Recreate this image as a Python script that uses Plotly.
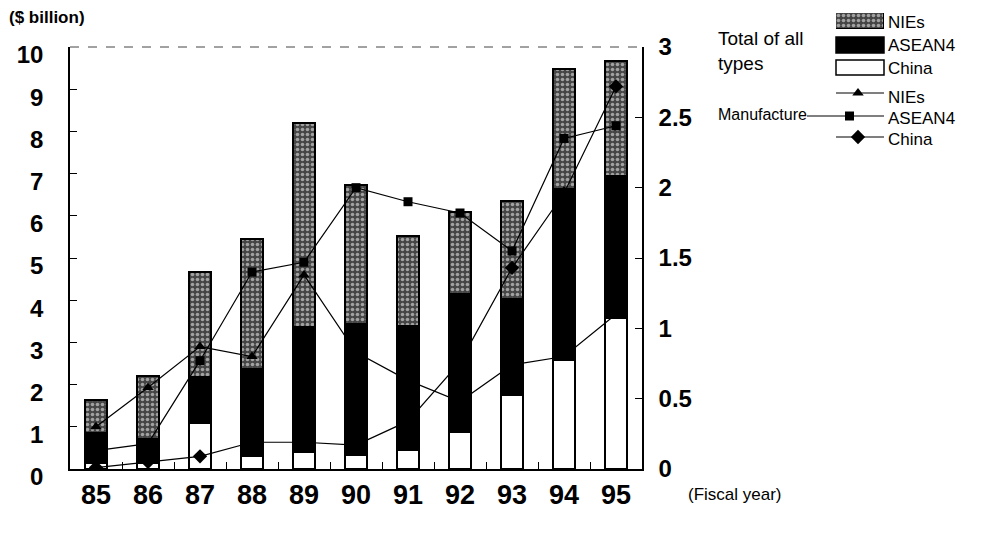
import plotly.graph_objects as go

# Fiscal years and Japanese FDI into Asia ($ billion, total of all types)
years = ["85", "86", "87", "88", "89", "90", "91", "92", "93", "94", "95"]
china_total = [0.15, 0.15, 1.10, 0.32, 0.41, 0.33, 0.45, 0.87, 1.75, 2.58, 3.59]
asean4_total = [0.70, 0.55, 1.07, 2.05, 2.95, 3.10, 2.95, 3.28, 2.28, 4.06, 3.36]
nies_total = [0.78, 1.50, 2.49, 3.08, 4.84, 3.30, 2.12, 1.95, 2.33, 2.84, 2.73]

# Manufacturing only ($ billion, right-hand scale)
nies_mfg = [0.30, 0.58, 0.87, 0.80, 1.38, 0.83, 0.63, 0.48, 0.74, 0.80, 1.10]
asean4_mfg = [0.13, 0.18, 0.77, 1.40, 1.47, 2.00, 1.90, 1.82, 1.55, 2.35, 2.44]
china_mfg = [0.01, 0.05, 0.09, 0.19, 0.19, 0.17, 0.34, 0.76, 1.43, 1.96, 2.72]

left_ticks = list(range(0, 11))
right_ticks = [0, 0.5, 1, 1.5, 2, 2.5, 3]
right_ticktext = ["0", "0.5", "1", "1.5", "2", "2.5", "3"]

W, H = 981, 533
PL, PR, PT, PB = 70, 642, 47, 469  # plot frame in pixels


def fx(px):
    return px / W


def fy(py):
    return (H - py) / H


FONT = "Liberation Sans, Arial, sans-serif"
stipple = dict(shape=".", fillmode="overlay", fgcolor="white", size=5, solidity=0.4)
STIPPLE_BG = "#454545"

fig = go.Figure()

fig.add_trace(go.Bar(x=years, y=china_total, name="China", width=0.43,
                     marker=dict(color="white", line=dict(color="black", width=2))))
fig.add_trace(go.Bar(x=years, y=asean4_total, name="ASEAN4", width=0.43,
                     marker=dict(color="black", line=dict(color="black", width=2))))
fig.add_trace(go.Bar(x=years, y=nies_total, name="NIEs", width=0.43,
                     marker=dict(color=STIPPLE_BG, pattern=stipple,
                                 line=dict(color="black", width=2))))

line_style = dict(color="black", width=1.2)
fig.add_trace(go.Scatter(x=years, y=nies_mfg, yaxis="y2", mode="lines+markers",
                         line=line_style, marker=dict(symbol="triangle-up", size=10, color="black")))
fig.add_trace(go.Scatter(x=years, y=asean4_mfg, yaxis="y2", mode="lines+markers",
                         line=line_style, marker=dict(symbol="square", size=9, color="black")))
fig.add_trace(go.Scatter(x=years, y=china_mfg, yaxis="y2", mode="lines+markers",
                         line=line_style, marker=dict(symbol="diamond", size=11, color="black")))

# Legend panel drawn in its own pixel-unit subplot
LX0, LX1, LY0, LY1 = 700, 981, 0, 160
for (x0, x1, y, sym, size) in [(836, 884, 93, "triangle-up", 10),
                               (807, 884, 116, "square", 9),
                               (836, 884, 137, "diamond", 11)]:
    fig.add_trace(go.Scatter(x=[x0, x1], y=[y, y], xaxis="x3", yaxis="y3", mode="lines",
                             line=dict(color="black", width=1.2), hoverinfo="skip"))
    fig.add_trace(go.Scatter(x=[(x0 + x1) / 2 + (4 if x0 == 807 else -2)], y=[y], xaxis="x3",
                             yaxis="y3", mode="markers",
                             marker=dict(symbol=sym, size=size, color="black"), hoverinfo="skip"))

# Stippled swatch for the NIEs bar legend entry
fig.add_trace(go.Bar(x=[0], y=[1], width=[1], xaxis="x4", yaxis="y4",
                     marker=dict(color=STIPPLE_BG, pattern=stipple,
                                 line=dict(color="black", width=1.5)), hoverinfo="skip"))

shapes = [
    dict(type="rect", xref="x3", yref="y3", x0=836, x1=884, y0=37, y1=53,
         fillcolor="black", line=dict(color="black", width=1.5)),
    dict(type="rect", xref="x3", yref="y3", x0=836, x1=884, y0=60, y1=75,
         fillcolor="white", line=dict(color="black", width=1.5)),
    dict(type="line", xref="paper", yref="paper", x0=fx(PL), x1=fx(PR), y0=fy(PT), y1=fy(PT),
         line=dict(color="#444", width=1, dash="dash")),
]

annotations = [
    dict(text="($ billion)", x=fx(7), y=fy(18), font=dict(size=17, weight="bold")),
    dict(text="(Fiscal year)", x=fx(686), y=fy(494), font=dict(size=17)),
    dict(text="Total of all<br>types", x=fx(716), y=fy(51), font=dict(size=19)),
    dict(text="Manufacture", x=fx(716), y=fy(114), font=dict(size=16)),
    dict(text="NIEs", x=fx(886), y=fy(22), font=dict(size=17)),
    dict(text="ASEAN4", x=fx(886), y=fy(45), font=dict(size=17)),
    dict(text="China", x=fx(886), y=fy(68), font=dict(size=17)),
    dict(text="NIEs", x=fx(886), y=fy(97), font=dict(size=17)),
    dict(text="ASEAN4", x=fx(886), y=fy(119), font=dict(size=17)),
    dict(text="China", x=fx(886), y=fy(140), font=dict(size=17)),
]
for a in annotations:
    a.update(xref="paper", yref="paper", xanchor="left", yanchor="middle",
             align="left", showarrow=False)
    a["font"].update(family=FONT, color="black")

hidden = dict(visible=False, fixedrange=True, showgrid=False, zeroline=False, automargin=False)

fig.update_layout(
    template="none",
    width=W, height=H, autosize=False,
    margin=dict(l=0, r=0, t=0, b=0, pad=0),
    paper_bgcolor="white", plot_bgcolor="white",
    showlegend=False, barmode="stack", bargap=0,
    font=dict(family=FONT, color="black"),
    xaxis=dict(domain=[fx(PL), fx(PR)], type="category", range=[-0.5, 10.5],
               showline=True, linecolor="black", linewidth=1.5, automargin=False,
               ticks="inside", tickson="boundaries", ticklen=7, tickcolor="black",
               tickfont=dict(size=27, weight="bold"), ticklabelstandoff=1,
               showgrid=False, zeroline=False),
    yaxis=dict(domain=[fy(PB), fy(PT)], range=[0, 10], tickvals=left_ticks,
               showline=True, linecolor="black", linewidth=1.5, automargin=False,
               ticks="inside", ticklen=7, tickcolor="black",
               tickfont=dict(size=24, weight="bold"), ticklabelstandoff=20,
               ticklabelshift=8, showgrid=False, zeroline=False),
    yaxis2=dict(overlaying="y", side="right", anchor="x", range=[0, 3],
                tickvals=right_ticks, ticktext=right_ticktext, automargin=False,
                showline=True, linecolor="black", linewidth=1.5,
                ticks="inside", ticklen=7, tickcolor="black",
                tickfont=dict(size=24, weight="bold"), ticklabelstandoff=10,
                showgrid=False, zeroline=False),
    xaxis3=dict(domain=[fx(LX0), fx(LX1)], range=[LX0, LX1], anchor="y3", **hidden),
    yaxis3=dict(domain=[fy(LY1), fy(LY0)], range=[LY1, LY0], anchor="x3", **hidden),
    xaxis4=dict(domain=[fx(836), fx(884)], range=[-0.5, 0.5], anchor="y4", **hidden),
    yaxis4=dict(domain=[fy(29), fy(13)], range=[0, 1], anchor="x4", **hidden),
    shapes=shapes,
    annotations=annotations,
)

fig.write_html("out.html")
